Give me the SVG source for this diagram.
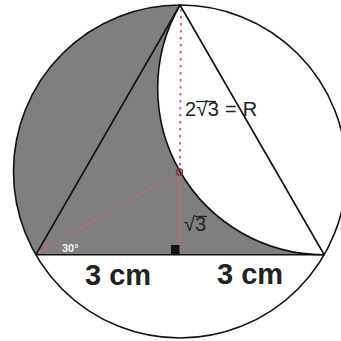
<svg xmlns="http://www.w3.org/2000/svg" width="341" height="341" viewBox="0 0 341 341">
<style>
.ln{fill:none;stroke:#111;stroke-width:1.6;stroke-linejoin:round}
.red{fill:none;stroke:#d9606c;stroke-width:2}
.lbl{font-family:"Liberation Sans",Arial,sans-serif;fill:#222}
</style>
<rect width="341" height="341" fill="#fff"/>
<g id="shaded">
<path d="M180,5 A166.5,166.5 0 0 0 35.8,254.75 L324.2,254.75 A166.5,166.5 0 0 1 180,5 Z" fill="#7e7f81"/>
</g>
<g id="circle">
<circle cx="180" cy="171.5" r="166.5" class="ln"/>
</g>
<g id="triangle">
<path d="M180,5 L35.8,254.75 L324.2,254.75 Z" class="ln"/>
</g>
<g id="arc">
<path d="M324.2,254.75 A166.5,166.5 0 0 1 180,5" class="ln"/>
</g>
<g id="connectors">
<line x1="181" y1="9" x2="180" y2="167" class="red" stroke-width="2.5" stroke-dasharray="2.5 4.5"/>
<line x1="179.5" y1="176" x2="179.5" y2="246" class="red" stroke-width="2" stroke-dasharray="2 1.2"/>
<line x1="38" y1="253" x2="176" y2="174" class="red" stroke-width="3" stroke-dasharray="4 4" stroke-opacity="0.85"/>
<circle cx="179.5" cy="172" r="3" fill="none" stroke="#8b2a35" stroke-width="1.5"/>
<rect x="171" y="245" width="8.5" height="9" fill="#111"/>
</g>
<g id="labels">
<text x="185" y="116" class="lbl" font-size="20" letter-spacing="0.3">2√3 = R</text>
<line x1="196" y1="101.5" x2="216" y2="101.5" stroke="#222" stroke-width="1.3"/>
<text x="184" y="231" class="lbl" font-size="20">√3</text>
<line x1="195" y1="216.5" x2="207" y2="216.5" stroke="#222" stroke-width="1.3"/>
<text x="62" y="252" class="lbl" font-size="11" font-weight="bold" style="fill:#f4f4f4">30°</text>
<text x="85" y="285" class="lbl" font-size="29" font-weight="bold">3 cm</text>
<text x="217" y="284" class="lbl" font-size="29" font-weight="bold">3 cm</text>
</g>
</svg>
